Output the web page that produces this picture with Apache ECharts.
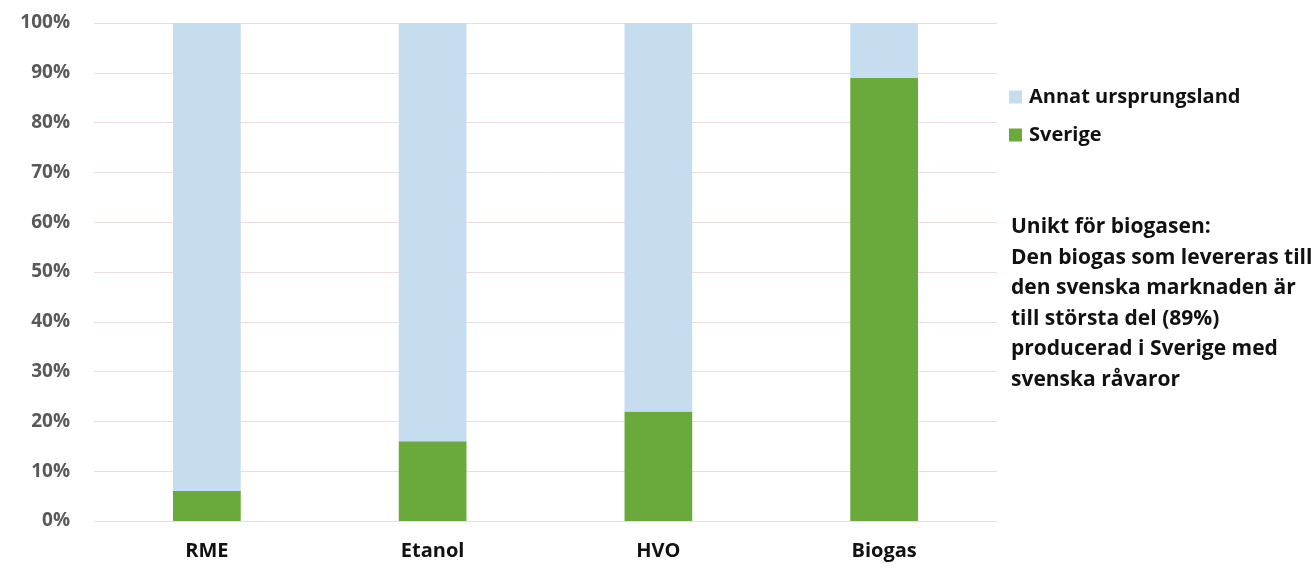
<!DOCTYPE html>
<html><head><meta charset="utf-8">
<script src="https://cdn.jsdelivr.net/npm/echarts@6/dist/echarts.min.js"></script>
<style>html,body{margin:0;padding:0;background:#fff}#c{width:1316px;height:581px}</style>
</head><body><div id="c"></div>
<script>
const categories = ['RME', 'Etanol', 'HVO', 'Biogas'];
const sverige = [6, 16, 22, 89];
const annat = [94, 84, 78, 11];
const seriesNames = ['Annat ursprungsland', 'Sverige'];
const noteLines = ['Unikt för biogasen:', 'Den biogas som levereras till', 'den svenska marknaden är', 'till största del (89%)', 'producerad i Sverige med', 'svenska råvaror'];

const chart = echarts.init(document.getElementById('c'), null, {renderer: 'canvas'});
const font = '"Open Sans", "Liberation Sans", sans-serif';
chart.setOption({
  animation: false,
  grid: {left: 94, right: 319, top: 23, bottom: 60},
  legend: {
    data: seriesNames,
    orient: 'vertical', left: 1004, top: 82, itemGap: 18,
    itemWidth: 13, itemHeight: 13, icon: 'rect',
    textStyle: {fontFamily: font, fontWeight: 'bold', fontSize: 20, color: '#111', padding: [0, 0, 0, 2]}
  },
  xAxis: {
    type: 'category', data: categories,
    axisLine: {show: false}, axisTick: {show: false},
    axisLabel: {margin: 20, fontFamily: font, fontWeight: 'bold', fontSize: 20, color: '#111'}
  },
  yAxis: {
    type: 'value', min: 0, max: 100, interval: 10,
    axisLine: {show: false}, axisTick: {show: false},
    axisLabel: {formatter: '{value}%', margin: 24, fontFamily: font, fontWeight: 'bold', fontSize: 19, color: '#595959'},
    splitLine: {lineStyle: {color: '#ecdcdc', width: 1}}
  },
  series: [
    {name: 'Sverige', type: 'bar', stack: 'a', data: sverige, barWidth: '30%', itemStyle: {color: '#6aa93b'}},
    {name: 'Annat ursprungsland', type: 'bar', stack: 'a', data: annat, barWidth: '30%', itemStyle: {color: '#c6ddf0'}}
  ],
  graphic: [{
    type: 'text', left: 1011, top: 212,
    style: {text: noteLines.join('\n'), fontFamily: font, fontWeight: 'bold', fontSize: 21, lineHeight: 30.5, fill: '#111'}
  }]
});
</script></body></html>
